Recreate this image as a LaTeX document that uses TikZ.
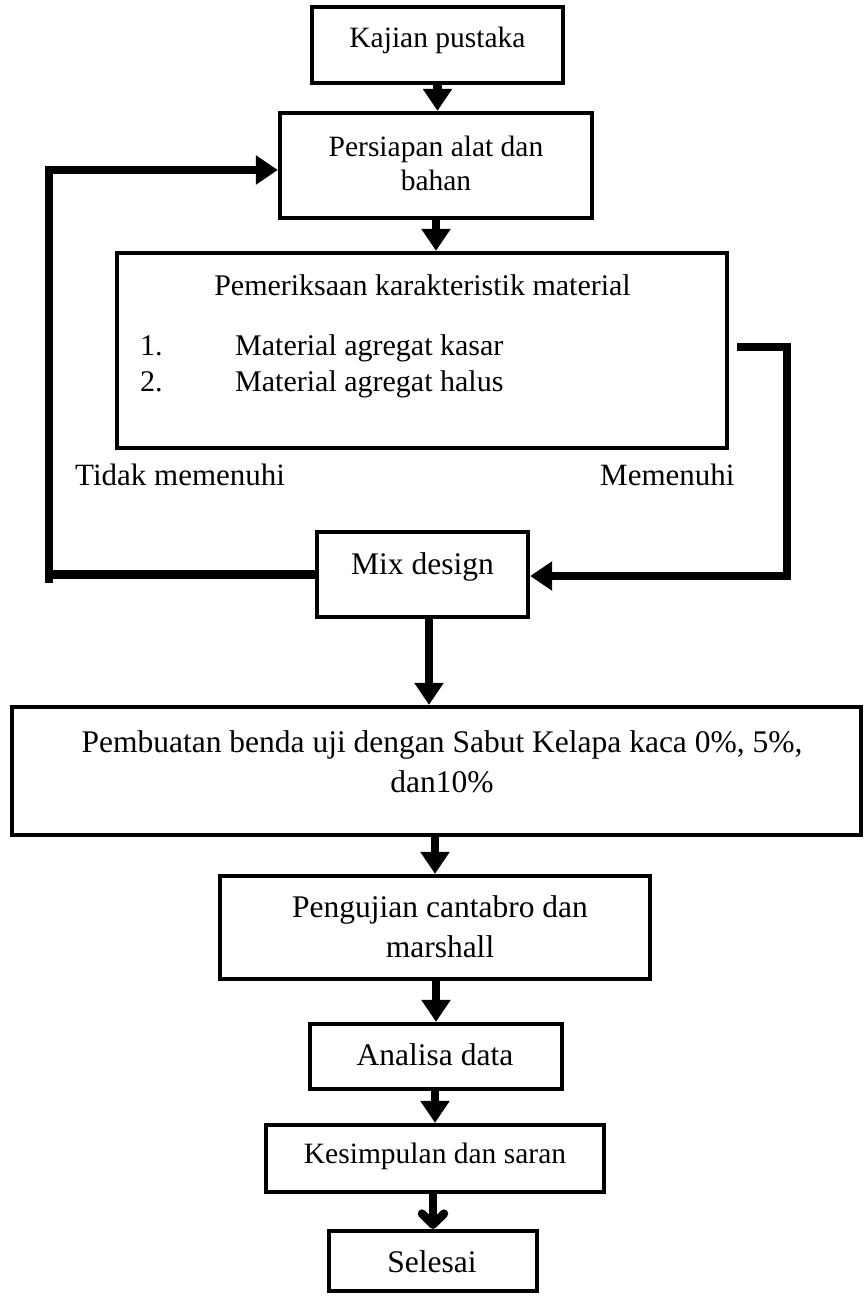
\documentclass[tikz,border=0pt]{standalone}
\usepackage{fontspec}
\setmainfont{Liberation Serif}
\usetikzlibrary{arrows.meta}
\newcommand\myfs[1]{\fontsize{#1pt}{#1pt}\selectfont}
\begin{document}
\begin{tikzpicture}[x=1pt,y=-1pt,
  box/.style={draw, line width=4.3pt, inner sep=0pt},
  conn/.style={line width=8.5pt},
  arr/.style={conn, -{Triangle[length=22pt,width=28pt]}},
  chev/.style={conn, -{Straight Barb[length=11pt,width=22pt,round]}},
  txt/.style={anchor=base, inner sep=0pt},
  txtl/.style={anchor=base west, inner sep=0pt}]
\useasboundingbox (0,0) rectangle (865,1296);
% boxes
\node[box, minimum width=251pt, minimum height=76pt] (kajian) at (437.5,45) {};
\node[box, minimum width=312pt, minimum height=105pt] (persiapan) at (436,165.5) {};
\node[box, minimum width=610pt, minimum height=195pt] (periksa) at (422,350.5) {};
\node[box, minimum width=211pt, minimum height=85pt] (mix) at (422.5,574.5) {};
\node[box, minimum width=849pt, minimum height=128pt] (pemb) at (436.5,771) {};
\node[box, minimum width=430pt, minimum height=103pt] (uji) at (435,927.5) {};
\node[box, minimum width=252pt, minimum height=65pt] (analisa) at (436,1056.5) {};
\node[box, minimum width=338pt, minimum height=67pt] (kesim) at (435,1158.5) {};
\node[box, minimum width=208pt, minimum height=60pt] (selesai) at (433,1261) {};
% texts
\node[txt, font=\myfs{29.5}] (t1) at (437.5,47) {Kajian pustaka};
\node[txt, font=\myfs{29.5}] (t2a) at (436,156) {Persiapan alat dan};
\node[txt, font=\myfs{29.5}] (t2b) at (436,190) {bahan};
\node[txt, font=\myfs{30}] (t3) at (422.5,295) {Pemeriksaan karakteristik material};
\node[txtl, font=\myfs{30}] (n1) at (140,355) {1.};
\node[txtl, font=\myfs{30}] (m1) at (235,355) {Material agregat kasar};
\node[txtl, font=\myfs{30}] (n2) at (140,391) {2.};
\node[txtl, font=\myfs{30}] (m2) at (235,391) {Material agregat halus};
\node[txtl, font=\myfs{31}] (tidak) at (75,485) {Tidak memenuhi};
\node[txtl, font=\myfs{31}] (memenuhi) at (600,485) {Memenuhi};
\node[txt, font=\myfs{31.5}] (t4) at (422.5,574) {Mix design};
\node[txt, font=\myfs{31.5}] (t5a) at (442,752) {Pembuatan benda uji dengan Sabut Kelapa kaca 0\%, 5\%,};
\node[txt, font=\myfs{31.5}] (t5b) at (442,792) {dan10\%};
\node[txt, font=\myfs{31.5}] (t6a) at (440,917) {Pengujian cantabro dan};
\node[txt, font=\myfs{31.5}] (t6b) at (440,957) {marshall};
\node[txt, font=\myfs{31.5}] (t7) at (435,1065) {Analisa data};
\node[txt, font=\myfs{29.5}] (t8) at (435,1163) {Kesimpulan dan saran};
\node[txt, font=\myfs{31.5}] (t9) at (432,1272) {Selesai};
% coordinates for loops
\coordinate (lb) at (49,574.5);
\coordinate (lbe) at (49,583);
\coordinate (lt) at (49,170);
\coordinate (rs) at (737,347);
\coordinate (rc) at (787,347);
\coordinate (rb) at (787,576);
% connectors
\draw[arr] (kajian.south) -- (kajian.south |- persiapan.north);
\draw[arr] (persiapan.south) -- (persiapan.south |- periksa.north);
\draw[conn] (mix.west) -- (lb);
\draw[arr] (lbe) -- (lt) -- (persiapan.west |- lt);
\draw[arr] (rs) -- (rc) -- (rb) -- (mix.east |- rb);
\draw[arr] ([xshift=6.5pt]mix.south) -- ([xshift=6.5pt]mix.south |- pemb.north);
\draw[arr] (uji.north |- pemb.south) -- (uji.north);
\draw[arr] (analisa.north |- uji.south) -- (analisa.north);
\draw[arr] (kesim.north |- analisa.south) -- (kesim.north);
\draw[chev] (selesai.north |- kesim.south) -- (selesai.north);
\end{tikzpicture}
\end{document}
